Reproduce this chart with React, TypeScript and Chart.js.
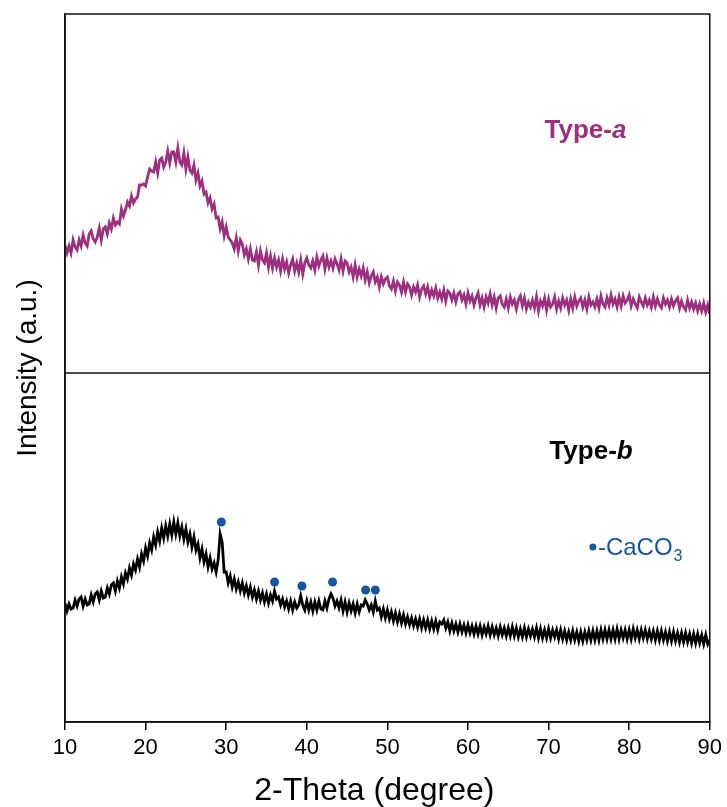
import React, { useEffect, useRef } from "react";
import { Chart, registerables } from "chart.js";

Chart.register(...registerables);

// 2-Theta sampling grid (degrees)
const THETA_START = 10;
const THETA_STEP = 0.25;

// Type-a intensity (a.u.), one value every 0.25 degree from 10 to 90 (4 per row = 1 degree)
const typeA: number[] = [
  473, 465, 472, 465, 478, 471, 468, 478, 472, 483, 475, 472, 484, 487, 479, 476,
  481, 490, 478, 489, 491, 484, 495, 489, 500, 493, 496, 494, 509, 502, 508, 516,
  512, 522, 515, 519, 521, 533, 533, 534, 532, 541, 549, 547, 546, 556, 545, 558,
  560, 551, 556, 567, 555, 566, 566, 556, 570, 556, 553, 565, 549, 561, 548, 545,
  553, 538, 545, 532, 537, 524, 526, 515, 520, 509, 514, 500, 501, 489, 496, 482,
  491, 481, 478, 475, 469, 480, 467, 478, 474, 463, 469, 459, 469, 458, 457, 466,
  453, 467, 458, 455, 465, 451, 462, 450, 460, 451, 458, 447, 459, 449, 456, 445,
  453, 459, 447, 455, 446, 458, 444, 455, 460, 453, 450, 457, 448, 461, 452, 458,
  462, 449, 460, 451, 457, 450, 459, 454, 448, 459, 447, 457, 455, 446, 451, 441,
  453, 441, 449, 442, 450, 438, 446, 435, 442, 446, 436, 441, 431, 441, 434, 439,
  441, 432, 429, 437, 427, 436, 433, 426, 436, 426, 434, 431, 423, 431, 426, 433,
  421, 429, 432, 424, 431, 421, 428, 422, 430, 420, 426, 419, 428, 417, 427, 425,
  418, 425, 416, 424, 426, 418, 423, 414, 425, 417, 422, 413, 420, 425, 413, 420,
  411, 421, 415, 424, 413, 421, 410, 420, 422, 414, 411, 419, 410, 421, 414, 418,
  409, 418, 422, 412, 420, 409, 416, 411, 418, 410, 421, 407, 417, 412, 420, 408,
  419, 411, 414, 421, 409, 417, 410, 420, 413, 418, 408, 419, 410, 421, 412, 417,
  420, 411, 418, 409, 421, 413, 416, 411, 419, 410, 422, 414, 411, 420, 413, 423,
  414, 419, 411, 421, 412, 422, 415, 418, 423, 412, 419, 414, 410, 421, 416, 412,
  420, 413, 418, 411, 421, 412, 419, 413, 410, 420, 414, 418, 411, 419, 412, 417,
  420, 410, 417, 411, 408, 418, 410, 416, 409, 415, 407, 414, 407, 415, 406, 413,
  404,
];

// Type-b intensity (a.u.), one value every 0.25 degree from 10 to 90 (4 per row = 1 degree)
const typeB: number[] = [
  115, 107, 114, 109, 110, 118, 112, 119, 121, 112, 119, 113, 114, 123, 116, 124,
  126, 118, 127, 120, 121, 130, 124, 133, 135, 127, 137, 130, 141, 134, 145, 139,
  150, 143, 154, 148, 159, 151, 164, 157, 170, 162, 175, 168, 181, 173, 186, 177,
  190, 180, 192, 182, 194, 183, 196, 184, 195, 182, 191, 179, 189, 176, 184, 171,
  181, 168, 174, 160, 169, 156, 164, 151, 160, 149, 155, 146, 158, 184, 176, 146,
  146, 135, 142, 131, 139, 129, 136, 127, 135, 125, 132, 123, 131, 121, 128, 119,
  127, 118, 125, 116, 124, 115, 123, 117, 127, 119, 121, 113, 119, 111, 117, 109,
  117, 108, 116, 110, 113, 122, 113, 108, 117, 108, 116, 107, 116, 108, 117, 109,
  108, 117, 110, 119, 124, 120, 112, 117, 110, 118, 107, 116, 106, 115, 107, 114,
  105, 114, 106, 113, 112, 118, 114, 108, 113, 106, 117, 108, 110, 101, 109, 100,
  108, 99, 106, 97, 105, 96, 104, 95, 103, 94, 101, 93, 100, 92, 99, 91,
  99, 90, 98, 90, 98, 89, 97, 89, 97, 88, 96, 94, 98, 90, 96, 87,
  95, 87, 94, 86, 94, 86, 93, 85, 93, 85, 92, 84, 92, 84, 92, 83,
  91, 84, 92, 83, 91, 83, 90, 82, 91, 83, 90, 82, 90, 82, 91, 82,
  90, 81, 89, 81, 90, 81, 89, 82, 89, 81, 90, 80, 89, 80, 88, 80,
  89, 80, 88, 81, 88, 79, 88, 79, 87, 78, 86, 78, 87, 78, 86, 77,
  86, 77, 86, 78, 87, 78, 87, 78, 87, 78, 88, 79, 88, 79, 88, 79,
  88, 79, 89, 79, 88, 80, 88, 79, 88, 79, 89, 80, 88, 79, 88, 80,
  88, 79, 87, 79, 87, 78, 87, 78, 87, 78, 86, 77, 86, 77, 86, 77,
  85, 76, 85, 76, 85, 76, 84, 75, 84, 75, 84, 75, 83, 74, 83, 74,
  78,
];

// CaCO3 reflections marked on Type-b
const caco3Theta: number[] = [29.4, 36.0, 39.4, 43.2, 47.3, 48.5];
const caco3Marker: number[] = [196, 136, 132, 136, 128, 128];

// panel divider level and legend marker
const dividerLevel = 345;
const legendTheta = 75.5;
const legendLevel = 171;

const X_TICKS = [10, 20, 30, 40, 50, 60, 70, 80, 90];
const X_TITLE = "2-Theta (degree)";
const Y_TITLE = "Intensity (a.u.)";

const PURPLE = "#9c2f7e";
const BLUE = "#1655a2";
const FONT = "'Liberation Sans', Arial, sans-serif";

const toPoints = (vals: number[]) =>
  vals.map((v, i) => ({ x: THETA_START + i * THETA_STEP, y: v }));

const labelsPlugin = {
  id: "xrdLabels",
  afterDatasetsDraw(chart: any) {
    const { ctx, chartArea, scales } = chart;
    const xs = scales.x;
    const ys = scales.y;
    ctx.save();
    ctx.strokeStyle = "#111";
    ctx.lineWidth = 1.5;
    ctx.strokeRect(chartArea.left, chartArea.top, chartArea.right - chartArea.left, chartArea.bottom - chartArea.top);

    ctx.textBaseline = "alphabetic";
    ctx.textAlign = "left";
    const drawType = (x: number, y: number, letter: string, color: string) => {
      ctx.fillStyle = color;
      ctx.font = `bold 26px ${FONT}`;
      const px = xs.getPixelForValue(x);
      const py = ys.getPixelForValue(y);
      ctx.fillText("Type-", px, py);
      const w = ctx.measureText("Type-").width;
      ctx.font = `italic bold 26px ${FONT}`;
      ctx.fillText(letter, px + w, py);
    };
    drawType(69.5, 580, "a", PURPLE);
    drawType(70.1, 259, "b", "#000");

    const lx = xs.getPixelForValue(legendTheta) + 5;
    const ly = ys.getPixelForValue(legendLevel) + 8;
    ctx.fillStyle = BLUE;
    ctx.font = `24px ${FONT}`;
    ctx.fillText("-CaCO", lx, ly);
    const w2 = ctx.measureText("-CaCO").width;
    ctx.font = `16px ${FONT}`;
    ctx.fillText("3", lx + w2 + 1, ly + 6);

    // x-axis title
    ctx.fillStyle = "#000";
    ctx.font = `32px ${FONT}`;
    ctx.textAlign = "center";
    ctx.textBaseline = "middle";
    ctx.fillText(X_TITLE, (chartArea.left + chartArea.right) / 2 - 13, 791);
    ctx.restore();
  },
};

export default function App() {
  const ref = useRef<HTMLCanvasElement | null>(null);
  useEffect(() => {
    if (!ref.current) return;
    const chart = new Chart(ref.current, {
      type: "line",
      data: {
        datasets: [
          {
            label: "divider",
            data: [
              { x: 10, y: dividerLevel },
              { x: 90, y: dividerLevel },
            ],
            borderColor: "#111",
            borderWidth: 1.5,
            pointRadius: 0,
          },
          {
            label: "Type-a",
            data: toPoints(typeA),
            borderColor: PURPLE,
            borderWidth: 2.8,
            pointRadius: 0,
            tension: 0,
          },
          {
            label: "Type-b",
            data: toPoints(typeB),
            borderColor: "#000",
            borderWidth: 2.8,
            pointRadius: 0,
            tension: 0,
          },
          {
            label: "CaCO3",
            data: caco3Theta.map((t, i) => ({ x: t, y: caco3Marker[i] })),
            showLine: false,
            pointRadius: 4.5,
            pointBackgroundColor: BLUE,
            pointBorderWidth: 0,
          },
          {
            label: "legend",
            data: [{ x: legendTheta, y: legendLevel }],
            showLine: false,
            pointRadius: 3.5,
            pointBackgroundColor: BLUE,
            pointBorderWidth: 0,
          },
        ],
      },
      options: {
        animation: false,
        responsive: false,
        layout: { padding: { top: 14, right: 17, left: 0, bottom: 0 } },
        plugins: { legend: { display: false }, tooltip: { enabled: false } },
        scales: {
          x: {
            type: "linear",
            min: 10,
            max: 90,
            afterBuildTicks: (s: any) => {
              s.ticks = X_TICKS.map((v) => ({ value: v }));
            },
            afterFit: (s: any) => {
              s.height = 85;
            },
            ticks: {
              color: "#000",
              font: { family: FONT, size: 22 },
              padding: 5,
              maxRotation: 0,
            },
            grid: {
              display: true,
              drawOnChartArea: false,
              drawTicks: true,
              tickLength: 8,
              color: "#000",
              lineWidth: 1.5,
            },
            border: { display: true, color: "#111", width: 1.5 },
            title: { display: false, text: X_TITLE },
          },
          y: {
            type: "linear",
            min: -4,
            max: 704,
            afterFit: (s: any) => {
              s.width = 65;
            },
            ticks: { display: false },
            grid: { display: false, drawTicks: false },
            border: { display: true, color: "#111", width: 1.5 },
            title: {
              display: true,
              text: Y_TITLE,
              color: "#000",
              font: { family: FONT, size: 28 },
              padding: { top: 11, bottom: 0 },
            },
          },
        },
      },
      plugins: [labelsPlugin],
    });
    return () => chart.destroy();
  }, []);
  return (
    <div style={{ position: "fixed", left: 0, top: 0, width: 727, height: 807, background: "#fff" }}>
      <canvas ref={ref} width={727} height={807} style={{ width: 727, height: 807, display: "block" }} />
    </div>
  );
}
